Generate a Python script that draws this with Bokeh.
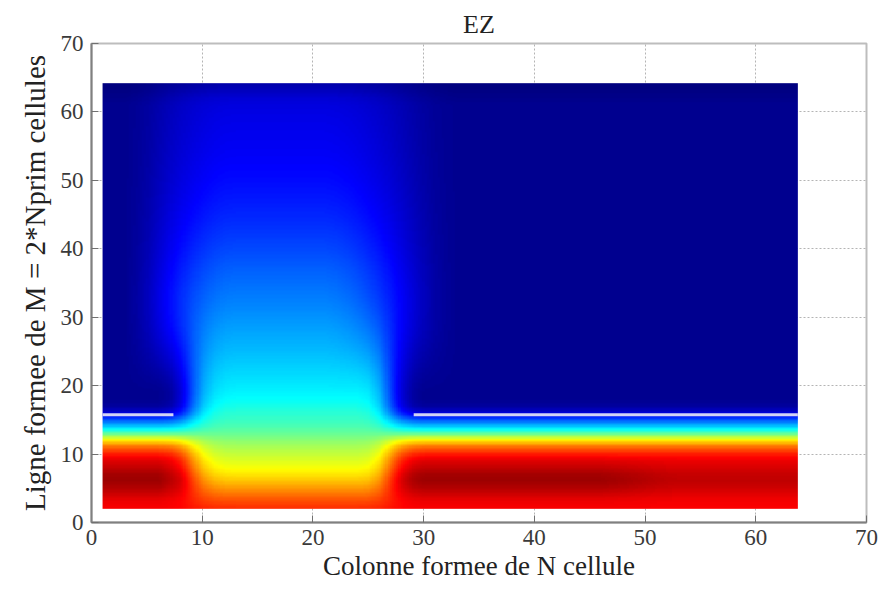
import numpy as np
from bokeh.plotting import figure
from bokeh.models import LinearColorMapper, FixedTicker, Range1d
from bokeh.embed import file_html
from bokeh.resources import INLINE

# ---------------- data ----------------
col_index = list(range(1, 65))   # N cells (x)
row_index = list(range(1, 65))   # M rows (y)

# EZ (normalised 0..1) along rows, outside the central dome
ez_outer = [0.87, 0.88, 0.89, 0.92, 0.95, 0.97, 0.96, 0.93, 0.90, 0.84,
            0.76, 0.63, 0.46, 0.32, 0.20, 0.08, 0.03] + [0.018] * 44 + [0.012, 0.006, 0.0]

# EZ along rows at the centre of the dome (x ~ 17)
ez_center = [0.84, 0.83, 0.80, 0.76, 0.72, 0.68, 0.645, 0.615, 0.59, 0.565,
             0.54, 0.51, 0.475, 0.45, 0.43, 0.415, 0.395, 0.378, 0.365, 0.355,
             0.346, 0.337, 0.328, 0.319, 0.31, 0.302, 0.294, 0.286, 0.278, 0.27,
             0.262, 0.255, 0.248, 0.241, 0.234, 0.227, 0.22, 0.212, 0.204, 0.196,
             0.189, 0.182, 0.175, 0.168, 0.162, 0.156, 0.15, 0.145, 0.14, 0.135,
             0.131, 0.127, 0.123, 0.119, 0.116, 0.113, 0.11, 0.107, 0.104, 0.1,
             0.095, 0.085, 0.065, 0.045]

# share of the dome along columns, lower rows (sharp edges)
dome_low = [0.0] * 6 + [0.04, 0.2, 0.52, 0.8, 0.94, 0.99] + [1.0] * 12 + \
           [0.97, 0.82, 0.5, 0.2, 0.05] + [0.0] * 35
# share of the dome along columns, upper rows (soft, wide wings)
dome_high = [0.0] * 3 + [0.08, 0.2, 0.36, 0.52, 0.66, 0.78, 0.88, 0.95, 0.99] + \
            [1.0] * 9 + \
            [0.98, 0.94, 0.88, 0.8, 0.7, 0.58, 0.45, 0.32, 0.2, 0.1, 0.04] + \
            [0.0] * 32
# how much each row follows the upper-row dome shape
row_mix = [0.0] * 19 + [0.05, 0.12, 0.2, 0.29, 0.38, 0.47, 0.56, 0.65, 0.73,
                        0.8, 0.86, 0.91, 0.95, 0.98] + [1.0] * 31
# depth of the deep-red band per column (outer zones)
deep_red = [1.0] * 6 + [0.85] + [1.0] * 39 + [0.95, 0.9, 0.84, 0.78, 0.72, 0.68] + [0.65] * 12

# bright interface line in the outer zones
line_x0 = [1.0, 29.1]
line_x1 = [7.4, 63.8]
line_y = [15.75, 15.75]

# ---------------- build the field ----------------
outer = np.array(ez_outer)[:, None]
deep = np.array(deep_red)[None, :]
outer2d = np.where(outer > 0.87, 0.87 + (outer - 0.87) * deep, outer)
center = np.array(ez_center)[:, None]
mix = np.array(row_mix)[:, None]
W = (1 - mix) * np.array(dome_low)[None, :] + mix * np.array(dome_high)[None, :]
field = outer2d + (center - outer2d) * W          # rows = y, cols = x

# smooth display (like shading interp)
x0, x1, y0, y1 = 1.0, 63.8, 2.0, 64.2
xf = np.linspace(x0, x1, 320)
yf = np.linspace(y0, y1, 320)
tmp = np.array([np.interp(xf, col_index, r) for r in field])
img = np.array([np.interp(yf, row_index, c) for c in tmp.T]).T


def jet(n=256):
    cols = []
    for t in np.linspace(0, 1, n):
        r = np.clip(1.5 - abs(4 * t - 3), 0, 1)
        g = np.clip(1.5 - abs(4 * t - 2), 0, 1)
        b = np.clip(1.5 - abs(4 * t - 1), 0, 1)
        cols.append("#%02x%02x%02x" % (int(r * 255), int(g * 255), int(b * 255)))
    return cols


mapper = LinearColorMapper(palette=jet(), low=0, high=1)

FONT = "Liberation Serif"

p = figure(width=885, height=592, output_backend="svg", toolbar_location=None,
           x_range=Range1d(0, 70), y_range=Range1d(0, 70),
           min_border_left=91, min_border_right=19, min_border_top=43, min_border_bottom=70,
           title="EZ")
p.image(image=[img], x=x0, y=y0, dw=x1 - x0, dh=y1 - y0, color_mapper=mapper)
p.segment(x0=line_x0, y0=line_y, x1=line_x1, y1=line_y, line_color="#d4d4f4", line_width=3)

ticks = [0, 10, 20, 30, 40, 50, 60, 70]
for ax in (p.xaxis[0], p.yaxis[0]):
    ax.ticker = FixedTicker(ticks=ticks)
    ax.minor_tick_line_color = None
    ax.major_tick_in = 7
    ax.major_tick_out = 0
    ax.axis_line_color = "#808080"
    ax.axis_line_width = 2
    ax.major_tick_line_color = "#707070"
    ax.major_label_text_font = FONT
    ax.major_label_text_font_size = "23px"
    ax.major_label_text_color = "#3a3a3a"
    ax.axis_label_text_font = FONT
    ax.axis_label_text_font_style = "normal"
    ax.axis_label_text_color = "#222222"

p.xaxis.axis_label = "Colonne formee de N cellule"
p.xaxis.axis_label_text_font_size = "27px"
p.xaxis.major_label_standoff = 7
p.xaxis.axis_label_standoff = 3
p.yaxis.axis_label = "Ligne formee de M = 2*Nprim cellules"
p.yaxis.axis_label_text_font_size = "29px"
p.yaxis.major_label_standoff = 8
p.yaxis.axis_label_standoff = 7

p.grid.ticker = FixedTicker(ticks=ticks)
p.grid.grid_line_color = "#b4b4b4"
p.grid.grid_line_dash = "2 2"
p.grid.grid_line_width = 1

p.outline_line_color = "#bdbdbd"
p.outline_line_width = 2

p.title.align = "center"
p.title.text_font = FONT
p.title.text_font_size = "26px"
p.title.text_font_style = "normal"
p.title.text_color = "#222222"

p.background_fill_color = "white"
p.border_fill_color = "white"

open("out.html", "w").write(file_html(p, INLINE))
